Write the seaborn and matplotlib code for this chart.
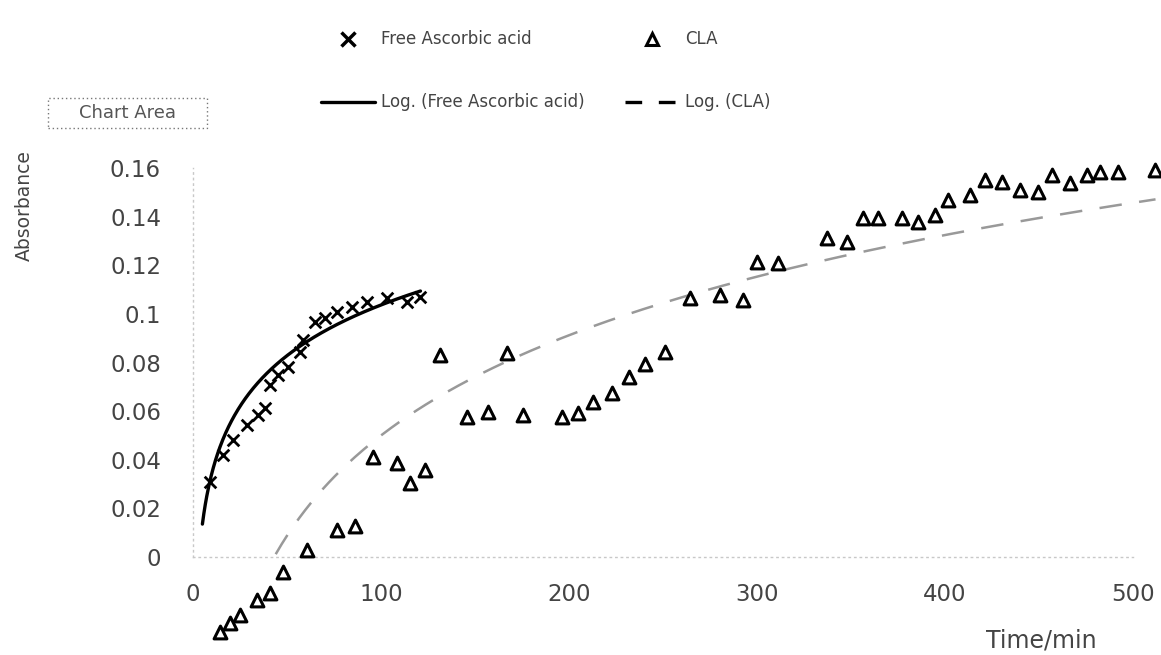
import numpy as np
import pandas as pd
import matplotlib
matplotlib.use("Agg")
import matplotlib.pyplot as plt
import seaborn as sns
from matplotlib.lines import Line2D
from matplotlib.patches import Rectangle

# ---------------- data ----------------
aa_time = [9.0, 16.0, 21.3, 28.7, 34.6, 38.3, 41.0, 45.2, 50.5, 56.9, 58.5,
           64.9, 70.2, 76.6, 84.6, 92.6, 103.2, 113.8, 120.7]
aa_abs = [0.0309, 0.0420, 0.0481, 0.0543, 0.0584, 0.0613, 0.0708, 0.0749,
          0.0782, 0.0844, 0.0893, 0.0967, 0.0984, 0.1008, 0.1029, 0.1049,
          0.1066, 0.1049, 0.1070]

cla_time = [14.4, 19.7, 25.0, 34.0, 41.0, 47.9, 60.6, 76.6, 86.2, 95.7, 108.5,
            115.4, 123.4, 131.4, 145.7, 156.9, 167.0, 175.5, 196.3, 204.8,
            212.8, 222.9, 231.9, 240.4, 251.0, 264.4, 280.3, 292.6, 300.0,
            311.2, 337.2, 347.9, 356.4, 364.4, 377.1, 385.6, 394.7, 401.6,
            413.3, 421.3, 430.3, 439.9, 449.5, 456.9, 466.5, 475.5, 482.4,
            492.0, 511.7]
cla_abs = [-0.0309, -0.0272, -0.0239, -0.0177, -0.0148, -0.0062, 0.0029, 0.0111,
           0.0128, 0.0412, 0.0387, 0.0305, 0.0358, 0.0831, 0.0576, 0.0597,
           0.0840, 0.0584, 0.0576, 0.0593, 0.0638, 0.0675, 0.0741, 0.0794,
           0.0844, 0.1066, 0.1078, 0.1058, 0.1214, 0.1210, 0.1313, 0.1296,
           0.1395, 0.1395, 0.1395, 0.1379, 0.1407, 0.1469, 0.1490, 0.1551,
           0.1543, 0.1510, 0.1502, 0.1572, 0.1539, 0.1572, 0.1584, 0.1584,
           0.1593]

# logarithmic trendlines (y = a*ln(x) + b) as shown on the chart
aa_log_a, aa_log_b = 0.0301, -0.0349
cla_log_a, cla_log_b = 0.0595, -0.224
aa_trend_range = (5, 121)
cla_trend_range = (44, 512)

x_ticks = [0, 100, 200, 300, 400, 500]
y_ticks = [0, 0.02, 0.04, 0.06, 0.08, 0.1, 0.12, 0.14, 0.16]
y_tick_labels = ["0", "0.02", "0.04", "0.06", "0.08", "0.1", "0.12", "0.14", "0.16"]

labels = ["Free Ascorbic acid", "CLA", "Log. (Free Ascorbic acid)", "Log. (CLA)"]

# ---------------- build frames ----------------
aa_df = pd.DataFrame({"time": aa_time, "abs": aa_abs})
cla_df = pd.DataFrame({"time": cla_time, "abs": cla_abs})
xa = np.linspace(*aa_trend_range, 300)
xc = np.linspace(*cla_trend_range, 300)
aa_fit = pd.DataFrame({"time": xa, "abs": aa_log_a * np.log(xa) + aa_log_b})
cla_fit = pd.DataFrame({"time": xc, "abs": cla_log_a * np.log(xc) + cla_log_b})

sns.set_style("white")
plt.rcParams["font.family"] = ["DejaVu Sans"]
txt_col = "#444444"

W, H = 1161, 655
fig = plt.figure(figsize=(W / 100, H / 100), dpi=100)
fig.patch.set_facecolor("white")

xlim = (-5, 513)
ylim = (-0.04, 0.17)
left_px, right_px = 183.6, 1157.4
bot_px, top_px = 654.2, 143.9
ax = fig.add_axes([left_px / W, (H - bot_px) / H,
                   (right_px - left_px) / W, (bot_px - top_px) / H])
ax.set_facecolor("white")

# trendlines
sns.lineplot(data=aa_fit, x="time", y="abs", ax=ax, color="black", lw=2.4,
             estimator=None, sort=False, legend=False)
sns.lineplot(data=cla_fit, x="time", y="abs", ax=ax, color="#999999", lw=1.8,
             estimator=None, sort=False, legend=False)
ax.lines[-1].set_dashes((9, 7))

# scatter points
sns.scatterplot(data=aa_df, x="time", y="abs", ax=ax, marker="x", s=70,
                color="black", linewidth=2.0, legend=False, zorder=3)
sns.scatterplot(data=cla_df, x="time", y="abs", ax=ax, marker="^", s=85,
                facecolor="white", edgecolor="black", linewidth=2.2,
                legend=False, zorder=3, clip_on=False)

ax.set_xlim(*xlim)
ax.set_ylim(*ylim)
ax.set_xticks(x_ticks)
ax.set_xticklabels([str(v) for v in x_ticks])
ax.set_yticks(y_ticks)
ax.set_yticklabels(y_tick_labels)
ax.tick_params(axis="both", length=0, labelsize=16.5, labelcolor=txt_col)
ax.tick_params(axis="y", pad=23)
ax.tick_params(axis="x", pad=19)
ax.set_xlabel("")
ax.set_ylabel("")

for s in ["top", "right"]:
    ax.spines[s].set_visible(False)
ax.spines["left"].set_position(("data", 0))
ax.spines["bottom"].set_position(("data", 0))
ax.spines["left"].set_bounds(0, 0.16)
ax.spines["bottom"].set_bounds(0, 500)
for s in ["left", "bottom"]:
    ax.spines[s].set_color("#c8c8c8")
    ax.spines[s].set_linestyle((0, (1, 3)))
    ax.spines[s].set_linewidth(1.0)

# axis titles
fig.text(24 / W, 1 - 206 / H, "Absorbance", rotation=90, ha="center",
         va="center", fontsize=13.5, color=txt_col)
fig.text(1041 / W, 1 - 641 / H, "Time/min", ha="center", va="center",
         fontsize=17, color=txt_col)

# "Chart Area" tooltip box
fig.patches.append(Rectangle((48 / W, 1 - 128 / H), 159 / W, 30 / H,
                             transform=fig.transFigure, fill=False,
                             edgecolor="#777777", linestyle=(0, (1, 2)),
                             linewidth=1))
fig.text(127 / W, 1 - 113 / H, "Chart Area", ha="center", va="center",
         fontsize=13, color="#555555")

# legend
handles = [
    Line2D([], [], marker="x", color="black", linestyle="none",
           markersize=10, markeredgewidth=2.5),
    Line2D([], [], color="black", lw=2.4),
    Line2D([], [], marker="^", markerfacecolor="white", markeredgecolor="black",
           linestyle="none", markersize=8, markeredgewidth=2.2),
    Line2D([], [], color="black", lw=2.4, dashes=(5, 5)),
]
leg_labels = [labels[0], labels[2], labels[1], labels[3]]
fig.legend(handles, leg_labels, ncol=2, loc="upper left",
           bbox_to_anchor=(313 / W, 1 - 22 / H), frameon=False,
           fontsize=12, handlelength=3.2, handletextpad=0.4,
           columnspacing=2.4, labelspacing=2.7, borderpad=0,
           labelcolor=txt_col)

fig.savefig("out.png", dpi=100, facecolor="white")
